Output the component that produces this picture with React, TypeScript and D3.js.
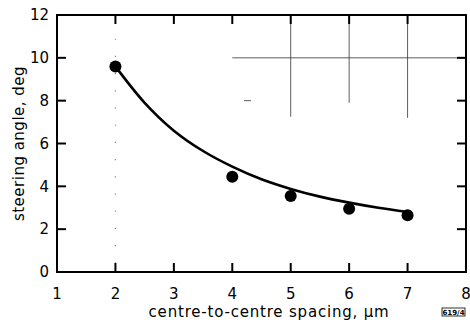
import React from "react";
import * as d3 from "d3";

// measured points
const spacing = [2, 4, 5, 6, 7];
const angle = [9.6, 4.45, 3.55, 2.95, 2.65];

// fitted curve
const curveX = [2, 2.5, 3, 3.5, 4, 4.5, 5, 5.5, 6, 6.5, 7];
const curveY = [9.6, 7.9, 6.6, 5.65, 4.92, 4.33, 3.88, 3.52, 3.24, 3.0, 2.8];

const xTicks = [1, 2, 3, 4, 5, 6, 7, 8];
const yTicks = [0, 2, 4, 6, 8, 10, 12];

const W = 470, H = 322;
const m = { left: 57, right: 4, top: 15, bottom: 50 };
const font = "'DejaVu Sans', sans-serif";

export default function App() {
  const x = d3.scaleLinear().domain([1, 8]).range([m.left, W - m.right]);
  const y = d3.scaleLinear().domain([0, 12]).range([H - m.bottom, m.top]);

  const line = d3.line<number>()
    .x((d) => x(d))
    .y((_, i) => y(curveY[i]))
    .curve(d3.curveCatmullRom);

  const tk = 9;
  const x0 = x(1), x1 = x(8), y0 = y(0), y1 = y(12);

  return (
    <svg width={W} height={H} style={{ position: "absolute", left: 0, top: 0, background: "#fff" }}>
      {/* faint leftover grid from the original figure */}
      <g stroke="#333" strokeWidth={0.8}>
        <line x1={x(4)} x2={x1} y1={y(10)} y2={y(10)} />
        <line x1={x(5)} x2={x(5)} y1={y1} y2={y(7.25)} />
        <line x1={x(6)} x2={x(6)} y1={y1} y2={y(7.9)} />
        <line x1={x(7)} x2={x(7)} y1={y1} y2={y(7.2)} />
        <line x1={x(4.2)} x2={x(4.32)} y1={y(8)} y2={y(8)} />
      </g>
      <line x1={x(2)} x2={x(2)} y1={y(11.7)} y2={y(0.3)} stroke="#888" strokeWidth={1.2} strokeDasharray="1.2 16" />

      {/* frame and inward ticks */}
      <rect x={x0} y={y1} width={x1 - x0} height={y0 - y1} fill="none" stroke="#000" strokeWidth={2} />
      <g stroke="#000" strokeWidth={2}>
        {xTicks.slice(1, -1).map((t) => (
          <g key={t}>
            <line x1={x(t)} x2={x(t)} y1={y0} y2={y0 - tk} />
            <line x1={x(t)} x2={x(t)} y1={y1} y2={y1 + tk} />
          </g>
        ))}
        {yTicks.slice(1, -1).map((t) => (
          <g key={t}>
            <line x1={x0} x2={x0 + tk} y1={y(t)} y2={y(t)} />
            <line x1={x1} x2={x1 - tk} y1={y(t)} y2={y(t)} />
          </g>
        ))}
      </g>

      {/* tick labels */}
      <g fontFamily={font} fontSize={15} fill="#000">
        {xTicks.map((t) => (
          <text key={t} x={x(t)} y={y0 + 27} textAnchor="middle">{t}</text>
        ))}
        {yTicks.map((t) => (
          <text key={t} x={x0 - 8} y={y(t)} dy="0.35em" textAnchor="end">{t}</text>
        ))}
        <text x={269} y={317} textAnchor="middle" letterSpacing={0.8}>centre-to-centre  spacing, μm</text>
        <text transform={`translate(19,${(y0 + y1) / 2}) rotate(-90)`} textAnchor="middle" dy="0.35em" letterSpacing={0.5}>
          steering  angle, deg
        </text>
      </g>

      {/* curve and points */}
      <path d={line(curveX) ?? ""} fill="none" stroke="#000" strokeWidth={2.6} />
      {spacing.map((s, i) => (
        <circle key={s} cx={x(s)} cy={y(angle[i])} r={6} fill="#000" />
      ))}

      {/* figure number */}
      <rect x={442} y={308} width={23} height={8} fill="none" stroke="#000" strokeWidth={0.8} />
      <text x={453.5} y={315} textAnchor="middle" fontFamily={font} fontSize={7} fontWeight="bold">619/4</text>
    </svg>
  );
}
